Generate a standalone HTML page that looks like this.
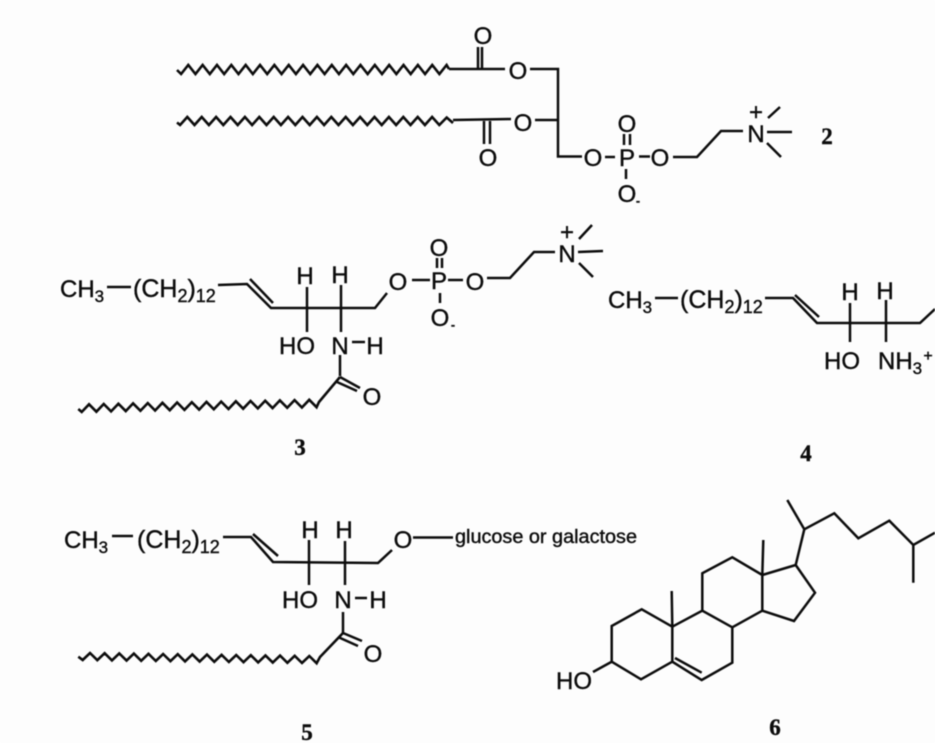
<!DOCTYPE html>
<html>
<head>
<meta charset="utf-8">
<style>
html,body{margin:0;padding:0;background:#fdfdfd;width:935px;height:743px;overflow:hidden}
svg{display:block;filter:blur(0.4px)}
.b{fill:none;stroke:#0c0c0c;stroke-width:2.5;stroke-linejoin:miter;stroke-linecap:butt}
.w{fill:none;stroke:#0c0c0c;stroke-width:2.6;stroke-linejoin:miter}
text{font-family:"Liberation Sans",sans-serif;font-size:24px;fill:#0c0c0c;stroke:#0c0c0c;stroke-width:0.4px}
.m{text-anchor:middle}
.n{font-family:"Liberation Serif",serif;font-weight:bold;font-size:23px;text-anchor:middle}
</style>
</head>
<body>
<svg width="935" height="743" viewBox="0 0 935 743" xmlns="http://www.w3.org/2000/svg">
<rect width="935" height="743" fill="#fdfdfd"/>

<!-- Compound 2 -->
<path class="w" d="M177 70L181.1 74
l7.175-9l7.175 9 l7.175-9l7.175 9 l7.175-9l7.175 9 l7.175-9l7.175 9 l7.175-9l7.175 9 l7.175-9l7.175 9
l7.175-9l7.175 9 l7.175-9l7.175 9 l7.175-9l7.175 9 l7.175-9l7.175 9 l7.175-9l7.175 9 l7.175-9l7.175 9
l7.175-9l7.175 9 l7.175-9l7.175 9 l7.175-9l7.175 9 l7.175-9l7.175 9 l7.175-9l7.175 9 l7.175-9l7.175 9
L446.600 65L449 69"/>
<path class="w" d="M177 122.500L180.100 125
l7.2-8l7.2 8 l7.2-8l7.2 8 l7.2-8l7.2 8 l7.2-8l7.2 8 l7.2-8l7.2 8 l7.2-8l7.2 8
l7.2-8l7.2 8 l7.2-8l7.2 8 l7.2-8l7.2 8 l7.2-8l7.2 8 l7.2-8l7.2 8 l7.2-8l7.2 8
l7.2-8l7.2 8 l7.2-8l7.2 8 l7.2-8l7.2 8 l7.2-8l7.2 8 l7.2-8l7.2 8 l7.2-8l7.2 8
L446.700 117.500L453 123"/>
<path class="b" d="M449 69H505M478 47V68M482 47V68M530 69H558V156.500H582"/>
<path class="b" d="M453 120L511 119M484 121V144M490 121V144M535 120H558"/>
<path class="b" d="M605 157H615M624 134V145M630 134V145M639 156.500H650M626 169V179M673 157H697L721 131H743"/>
<path class="b" d="M768 118L780 107M767 132H792M767 143L781 157"/>
<text class="m" x="483" y="44">O</text>
<text class="m" x="518" y="79">O</text>
<text class="m" x="523" y="131">O</text>
<text class="m" x="488" y="166">O</text>
<text class="m" x="593" y="166">O</text>
<text class="m" x="627" y="166">P</text>
<text class="m" x="627" y="132">O</text>
<text class="m" x="660" y="166">O</text>
<text class="m" x="627" y="202">O</text>
<text class="m" x="638" y="205" style="font-size:12px;font-weight:bold">-</text>
<text class="m" x="756" y="142">N</text>
<text class="m" x="756" y="120">+</text>
<text class="n" x="827" y="144">2</text>

<!-- Compound 3 -->
<text x="60" y="297">CH<tspan dy="5" style="font-size:17px">3</tspan></text>
<text x="133" y="297" style="font-size:25px">(CH<tspan dy="5" style="font-size:18px">2</tspan><tspan dy="-5">)</tspan><tspan dy="5" style="font-size:18px">12</tspan></text>
<path class="b" d="M107 287H131M218 285L247 284L271 308L375 308L387 293M250 279L273 303"/>
<path class="b" d="M307 287V332M341 285V332M412 280H430M448 280H463M437 258V268M442 258V268M440 293V303"/>
<path class="b" d="M487 278H510L534 252H555M579 239L592 225M578 252L603 251M579 263L593 277"/>
<path class="b" d="M352 342H365M340 355V376M340 377L360 388M337 382L357 391"/>
<path class="w" d="M78.300 409L81.700 412
l7.34-7.700l7.34 7.400 l7.34-7.700l7.34 7.400 l7.34-7.700l7.34 7.400 l7.34-7.700l7.34 7.400
l7.34-7.700l7.34 7.400 l7.34-7.700l7.34 7.400 l7.34-7.700l7.34 7.400 l7.34-7.700l7.34 7.400
l7.34-7.700l7.34 7.400 l7.34-7.700l7.34 7.400 l7.34-7.700l7.34 7.400 l7.34-7.700l7.34 7.400
l7.34-7.700l7.34 7.400 l7.34-7.700l7.34 7.400 l7.34-7.700l7.34 7.400 l7.34-7.700l7.34 7.400
L319 402L340 377"/>
<text class="m" x="305" y="284">H</text>
<text class="m" x="340" y="283">H</text>
<text class="m" x="297" y="354">HO</text>
<text class="m" x="340" y="354">N</text>
<text class="m" x="375" y="354">H</text>
<text class="m" x="372" y="405">O</text>
<text class="m" x="398" y="290">O</text>
<text class="m" x="439" y="289">P</text>
<text class="m" x="439" y="256">O</text>
<text class="m" x="475" y="290">O</text>
<text class="m" x="440" y="326">O</text>
<text class="m" x="453" y="329" style="font-size:12px;font-weight:bold">-</text>
<text class="m" x="567" y="262">N</text>
<text class="m" x="567" y="240">+</text>
<text class="n" x="300" y="455">3</text>

<!-- Compound 4 -->
<text x="608" y="308">CH<tspan dy="5" style="font-size:17px">3</tspan></text>
<text x="680" y="308" style="font-size:25px">(CH<tspan dy="5" style="font-size:18px">2</tspan><tspan dy="-5">)</tspan><tspan dy="5" style="font-size:18px">12</tspan></text>
<path class="b" d="M655 298H678M765 298H793L817 323H920L935 309M795 295L819 317"/>
<path class="b" d="M850 303V342M886 300V342"/>
<text class="m" x="850" y="300">H</text>
<text class="m" x="885" y="299">H</text>
<text class="m" x="842" y="369">HO</text>
<text x="878" y="369">NH<tspan dy="5" style="font-size:17px">3</tspan></text>
<text class="m" x="928" y="361" style="font-size:16px">+</text>
<text class="n" x="806" y="461">4</text>

<!-- Compound 5 -->
<text x="64" y="548">CH<tspan dy="5" style="font-size:17px">3</tspan></text>
<text x="137" y="548" style="font-size:25px">(CH<tspan dy="5" style="font-size:18px">2</tspan><tspan dy="-5">)</tspan><tspan dy="5" style="font-size:18px">12</tspan></text>
<path class="b" d="M112 536H133M223 537H251L273 562L378 563L392 550M253 534L278 556"/>
<path class="b" d="M309 540V585M345 541V585M413 537.500H453M355 598H367M343 612V634M343 633L362 641M338 637L358 646"/>
<path class="w" d="M78.300 656.700L82.700 660
l7.31-7l7.31 7.200 l7.31-7l7.31 7.200 l7.31-7l7.31 7.200 l7.31-7l7.31 7.200
l7.31-7l7.31 7.200 l7.31-7l7.31 7.200 l7.31-7l7.31 7.200 l7.31-7l7.31 7.200
l7.31-7l7.31 7.200 l7.31-7l7.31 7.200 l7.31-7l7.31 7.200 l7.31-7l7.31 7.200
l7.31-7l7.31 7.200 l7.31-7l7.31 7.200 l7.31-7l7.31 7.200 l7.31-7l7.31 7.200
L320 657L343 633"/>
<text class="m" x="310" y="538">H</text>
<text class="m" x="344" y="538">H</text>
<text class="m" x="300" y="608">HO</text>
<text class="m" x="343" y="608">N</text>
<text class="m" x="378" y="608">H</text>
<text class="m" x="373" y="662">O</text>
<text class="m" x="403" y="548">O</text>
<text x="455" y="543" style="font-size:19.800px" textLength="182" lengthAdjust="spacingAndGlyphs">glucose or galactose</text>
<text class="n" x="307" y="740">5</text>

<!-- Compound 6 -->
<path class="b" d="M593 672L611.700 661.700V626L641.700 609.300L672.300 626.700V661.700L641 679.300L611.700 661.700"/>
<path class="b" d="M672.300 661.700L701.700 680L732.300 662.700V627.300L702.300 610.700L672.300 626.700M675 658L701.700 672.700"/>
<path class="b" d="M702.300 610.700V573.300L732.300 557.300L762.300 575V610.700L732.300 627.300"/>
<path class="b" d="M671.700 591L672.300 626.700M763.300 540L762.300 575"/>
<path class="b" d="M762.300 575L795.700 565L815 592.700L794 621L762.300 610.700"/>
<path class="b" d="M795.700 565L804.300 529.300L787.300 500M804.300 529.300L834.300 513.300L858.300 538.300L889.300 520.700L913.300 545L935 532.700M913.300 545V582.700"/>
<text x="556" y="689">HO</text>
<text class="n" x="775" y="735">6</text>
</svg>
</body>
</html>
